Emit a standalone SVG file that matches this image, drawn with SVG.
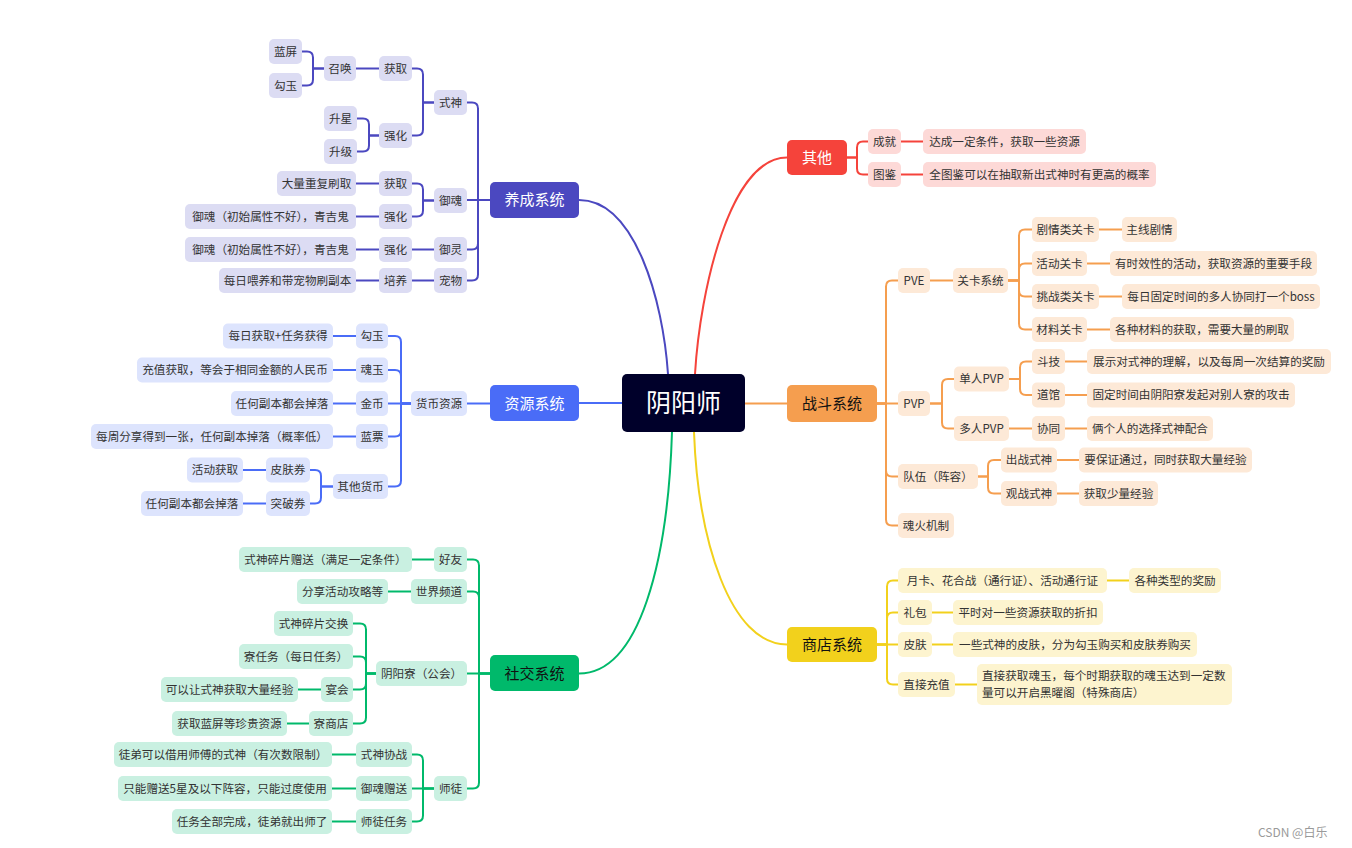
<svg xmlns="http://www.w3.org/2000/svg" width="1352" height="848" viewBox="0 0 1352 848">
<style>
text{font-family:"Noto Sans CJK SC","Noto Sans",sans-serif;font-size:11.6px;fill:#333;text-anchor:middle}
.main text{font-size:15px}
.w{fill:#fff}
.k{fill:#111}
.c path{fill:none;stroke-width:2}
.cy path{stroke:#4b48c0}.cz path{stroke:#4a6cf7}.cs path{stroke:#00b96b}
.cq path{stroke:#f5433b}.cd path{stroke:#f59e4f}.cp path{stroke:#f2d11c}
.ny rect{fill:#dcdcf3}.nz rect{fill:#dde4fd}.ns rect{fill:#c9f0e1}
.nq rect{fill:#fdd9d7}.nd rect{fill:#fde9d7}.np rect{fill:#fdf4cf}
</style>
<rect width="1352" height="848" fill="#fff"/>
<g id="connectors" class="c">
<g class="cy">
<path d="M668,374 C663,300 635,200 579,200"/>
<path d="M490,200 H478 V108.5 Q478,102.5 472,102.5 H467"/>
<path d="M490,200 H467"/>
<path d="M490,200 H478 V243.5 Q478,249.5 472,249.5 H467"/>
<path d="M490,200 H478 V274.5 Q478,280.5 472,280.5 H467"/>
<path d="M434,102.5 H423 V74.5 Q423,68.5 417,68.5 H412"/>
<path d="M434,102.5 H423 V129.5 Q423,135.5 417,135.5 H412"/>
<path d="M379,68.5 H356"/>
<path d="M324,68.5 H313 V57.5 Q313,51.5 307,51.5 H302"/>
<path d="M324,68.5 H313 V79.5 Q313,85.5 307,85.5 H302"/>
<path d="M379,135.5 H369 V124.5 Q369,118.5 363,118.5 H357"/>
<path d="M379,135.5 H369 V145.5 Q369,151.5 363,151.5 H357"/>
<path d="M434,200.5 H423 V189.5 Q423,183.5 417,183.5 H412"/>
<path d="M434,200.5 H423 V210.5 Q423,216.5 417,216.5 H412"/>
<path d="M379,183.5 H356"/>
<path d="M379,216.5 H356"/>
<path d="M434,249.5 H412"/>
<path d="M379,249.5 H356"/>
<path d="M434,280.5 H412"/>
<path d="M379,280.5 H356"/>
</g>
<g class="cz">
<path d="M579,403 H622"/>
<path d="M490,403.5 H467"/>
<path d="M411,403.5 H401 V342 Q401,336 395,336 H388"/>
<path d="M411,403.5 H401 V376 Q401,370 395,370 H388"/>
<path d="M411,403.5 H388"/>
<path d="M411,403.5 H401 V430.5 Q401,436.5 395,436.5 H388"/>
<path d="M411,403.5 H401 V480.5 Q401,486.5 395,486.5 H388"/>
<path d="M356,336 H333"/>
<path d="M356,370 H333"/>
<path d="M356,403.5 H333"/>
<path d="M356,436.5 H333"/>
<path d="M333,486.5 H321 V476 Q321,470 315,470 H310"/>
<path d="M333,486.5 H321 V497.5 Q321,503.5 315,503.5 H310"/>
<path d="M266,470 H243"/>
<path d="M266,503.5 H243"/>
</g>
<g class="cs">
<path d="M672,432 C668,560 640,673.5 579,673.5"/>
<path d="M490,673.5 H479 V565.5 Q479,559.5 473,559.5 H467"/>
<path d="M490,673.5 H479 V597.5 Q479,591.5 473,591.5 H467"/>
<path d="M490,673.5 H467"/>
<path d="M490,673.5 H479 V782.5 Q479,788.5 473,788.5 H467"/>
<path d="M434,559.5 H412"/>
<path d="M411,591.5 H388"/>
<path d="M376,673.5 H366 V629.5 Q366,623.5 360,623.5 H353"/>
<path d="M376,673.5 H366 V662.5 Q366,656.5 360,656.5 H353"/>
<path d="M376,673.5 H366 V683.5 Q366,689.5 360,689.5 H353"/>
<path d="M376,673.5 H366 V717.5 Q366,723.5 360,723.5 H353"/>
<path d="M321,689.5 H298"/>
<path d="M309,723.5 H287"/>
<path d="M434,788.5 H423 V760.5 Q423,754.5 417,754.5 H412"/>
<path d="M434,788.5 H412"/>
<path d="M434,788.5 H423 V815.5 Q423,821.5 417,821.5 H412"/>
<path d="M356,754.5 H332"/>
<path d="M356,788.5 H332"/>
<path d="M356,821.5 H332"/>
</g>
<g class="cq">
<path d="M695,374 C700,290 730,157.5 787,157.5"/>
<path d="M847,157.5 H857 V147.5 Q857,141.5 863,141.5 H868"/>
<path d="M847,157.5 H857 V168.5 Q857,174.5 863,174.5 H868"/>
<path d="M901,141.5 H923"/>
<path d="M901,174.5 H923"/>
</g>
<g class="cd">
<path d="M744,403.5 H787"/>
<path d="M877,403.5 H886 V286.5 Q886,280.5 892,280.5 H898"/>
<path d="M877,403.5 H898"/>
<path d="M877,403.5 H886 V470.5 Q886,476.5 892,476.5 H898"/>
<path d="M877,403.5 H886 V519.5 Q886,525.5 892,525.5 H898"/>
<path d="M930,280.5 H953"/>
<path d="M1008,280.5 H1019 V235.5 Q1019,229.5 1025,229.5 H1032"/>
<path d="M1008,280.5 H1019 V269.5 Q1019,263.5 1025,263.5 H1032"/>
<path d="M1008,280.5 H1019 V290.5 Q1019,296.5 1025,296.5 H1032"/>
<path d="M1008,280.5 H1019 V323.5 Q1019,329.5 1025,329.5 H1032"/>
<path d="M1099,229.5 H1122"/>
<path d="M1087,263.5 H1110"/>
<path d="M1099,296.5 H1122"/>
<path d="M1087,329.5 H1110"/>
<path d="M930,403.5 H942 V385 Q942,379 948,379 H954"/>
<path d="M930,403.5 H942 V422.5 Q942,428.5 948,428.5 H954"/>
<path d="M1009,379 H1020 V367.5 Q1020,361.5 1026,361.5 H1032"/>
<path d="M1009,379 H1020 V389 Q1020,395 1026,395 H1032"/>
<path d="M1065,361.5 H1087"/>
<path d="M1065,395 H1087"/>
<path d="M1009,428.5 H1032"/>
<path d="M1065,428.5 H1087"/>
<path d="M978,476.5 H988 V466 Q988,460 994,460 H1001"/>
<path d="M978,476.5 H988 V487.5 Q988,493.5 994,493.5 H1001"/>
<path d="M1057,460 H1079"/>
<path d="M1057,493.5 H1079"/>
</g>
<g class="cp">
<path d="M694,432 C698,540 730,644.5 787,644.5"/>
<path d="M877,644.5 H887 V586.5 Q887,580.5 893,580.5 H898"/>
<path d="M877,644.5 H887 V618.5 Q887,612.5 893,612.5 H898"/>
<path d="M877,644.5 H898"/>
<path d="M877,644.5 H887 V678.5 Q887,684.5 893,684.5 H898"/>
<path d="M1107,580.5 H1129"/>
<path d="M932,612.5 H953"/>
<path d="M932,644.5 H953"/>
<path d="M955,684.5 H977"/>
</g>
</g>

<g id="root"><rect x="622" y="374" width="123" height="58" rx="5" fill="#00002a"/><text x="683.5" y="412" class="w" style="font-size:25px">阴阳师</text></g>

<g class="main">
<g id="yangcheng"><rect x="490" y="182" width="89" height="36" rx="5" fill="#4b48c0"/><text x="534.5" y="205" class="w">养成系统</text></g>
<g id="ziyuan"><rect x="490" y="385" width="89" height="36" rx="5" fill="#4a6cf7"/><text x="534.5" y="408.5" class="w">资源系统</text></g>
<g id="shejiao"><rect x="490" y="655" width="89" height="36" rx="5" fill="#00b96b"/><text x="534.5" y="678.5" class="k">社交系统</text></g>
<g id="qita"><rect x="787" y="140" width="60" height="35" rx="5" fill="#f5433b"/><text x="817" y="163" class="w">其他</text></g>
<g id="zhandou"><rect x="787" y="385" width="90" height="37" rx="5" fill="#f59e4f"/><text x="832" y="409" class="k">战斗系统</text></g>
<g id="shangdian"><rect x="787" y="627" width="90" height="35" rx="5" fill="#f2d11c"/><text x="832" y="650" class="k">商店系统</text></g>
</g>

<g class="ny">
<g id="ys1"><rect x="434" y="90" width="33" height="25" rx="5"/><text x="450.5" y="106.5">式神</text></g>
<g id="ys2"><rect x="379" y="56" width="33" height="25" rx="5"/><text x="395.5" y="72.5">获取</text></g>
<g id="ys3"><rect x="324" y="56" width="32" height="25" rx="5"/><text x="340" y="72.5">召唤</text></g>
<g id="ys4"><rect x="269" y="39" width="33" height="25" rx="5"/><text x="285.5" y="55.5">蓝屏</text></g>
<g id="ys5"><rect x="269" y="73" width="33" height="25" rx="5"/><text x="285.5" y="89.5">勾玉</text></g>
<g id="ys6"><rect x="379" y="123" width="33" height="25" rx="5"/><text x="395.5" y="139.5">强化</text></g>
<g id="ys7"><rect x="324" y="106" width="33" height="25" rx="5"/><text x="340.5" y="122.5">升星</text></g>
<g id="ys8"><rect x="324" y="139" width="33" height="25" rx="5"/><text x="340.5" y="155.5">升级</text></g>
<g id="ys9"><rect x="434" y="188" width="33" height="25" rx="5"/><text x="450.5" y="204.5">御魂</text></g>
<g id="ys10"><rect x="379" y="171" width="33" height="25" rx="5"/><text x="395.5" y="187.5">获取</text></g>
<g id="ys11"><rect x="277" y="171" width="79" height="25" rx="5"/><text x="316.5" y="187.5">大量重复刷取</text></g>
<g id="ys12"><rect x="379" y="204" width="33" height="25" rx="5"/><text x="395.5" y="220.5">强化</text></g>
<g id="ys13"><rect x="185" y="204" width="171" height="25" rx="5"/><text x="270.5" y="220.5">御魂（初始属性不好），青吉鬼</text></g>
<g id="ys14"><rect x="434" y="237" width="33" height="25" rx="5"/><text x="450.5" y="253.5">御灵</text></g>
<g id="ys15"><rect x="379" y="237" width="33" height="25" rx="5"/><text x="395.5" y="253.5">强化</text></g>
<g id="ys16"><rect x="185" y="237" width="171" height="25" rx="5"/><text x="270.5" y="253.5">御魂（初始属性不好），青吉鬼</text></g>
<g id="ys17"><rect x="434" y="268" width="33" height="25" rx="5"/><text x="450.5" y="284.5">宠物</text></g>
<g id="ys18"><rect x="379" y="268" width="33" height="25" rx="5"/><text x="395.5" y="284.5">培养</text></g>
<g id="ys19"><rect x="219" y="268" width="137" height="25" rx="5"/><text x="287.5" y="284.5">每日喂养和带宠物刷副本</text></g>
</g>

<g class="nz">
<g id="zy1"><rect x="411" y="391" width="56" height="25" rx="5"/><text x="439" y="407.5">货币资源</text></g>
<g id="zy2"><rect x="356" y="323.5" width="32" height="25" rx="5"/><text x="372" y="340">勾玉</text></g>
<g id="zy3"><rect x="356" y="357.5" width="32" height="25" rx="5"/><text x="372" y="374">魂玉</text></g>
<g id="zy4"><rect x="356" y="391" width="32" height="25" rx="5"/><text x="372" y="407.5">金币</text></g>
<g id="zy5"><rect x="356" y="424" width="32" height="25" rx="5"/><text x="372" y="440.5">蓝票</text></g>
<g id="zy6"><rect x="333" y="474" width="55" height="25" rx="5"/><text x="360.5" y="490.5">其他货币</text></g>
<g id="zy7"><rect x="223" y="323.5" width="110" height="25" rx="5"/><text x="278" y="340">每日获取+任务获得</text></g>
<g id="zy8"><rect x="137" y="357.5" width="196" height="25" rx="5"/><text x="235" y="374">充值获取，等会于相同金额的人民币</text></g>
<g id="zy9"><rect x="231" y="391" width="102" height="25" rx="5"/><text x="282" y="407.5">任何副本都会掉落</text></g>
<g id="zy10"><rect x="91" y="424" width="242" height="25" rx="5"/><text x="212" y="440.5">每周分享得到一张，任何副本掉落（概率低）</text></g>
<g id="zy11"><rect x="266" y="457.5" width="44" height="25" rx="5"/><text x="288" y="474">皮肤券</text></g>
<g id="zy12"><rect x="266" y="491" width="44" height="25" rx="5"/><text x="288" y="507.5">突破券</text></g>
<g id="zy13"><rect x="187" y="457.5" width="56" height="25" rx="5"/><text x="215" y="474">活动获取</text></g>
<g id="zy14"><rect x="141" y="491" width="102" height="25" rx="5"/><text x="192" y="507.5">任何副本都会掉落</text></g>
</g>

<g class="ns">
<g id="sj1"><rect x="434" y="547" width="33" height="25" rx="5"/><text x="450.5" y="563.5">好友</text></g>
<g id="sj2"><rect x="411" y="579" width="56" height="25" rx="5"/><text x="439" y="595.5">世界频道</text></g>
<g id="sj3"><rect x="376" y="661" width="91" height="25" rx="5"/><text x="421.5" y="677.5">阴阳寮（公会）</text></g>
<g id="sj4"><rect x="434" y="776" width="33" height="25" rx="5"/><text x="450.5" y="792.5">师徒</text></g>
<g id="sj5"><rect x="239" y="547" width="173" height="25" rx="5"/><text x="325.5" y="563.5">式神碎片赠送（满足一定条件）</text></g>
<g id="sj6"><rect x="297" y="579" width="91" height="25" rx="5"/><text x="342.5" y="595.5">分享活动攻略等</text></g>
<g id="sj7"><rect x="274" y="611" width="79" height="25" rx="5"/><text x="313.5" y="627.5">式神碎片交换</text></g>
<g id="sj8"><rect x="239" y="644" width="114" height="25" rx="5"/><text x="296" y="660.5">寮任务（每日任务）</text></g>
<g id="sj9"><rect x="321" y="677" width="32" height="25" rx="5"/><text x="337" y="693.5">宴会</text></g>
<g id="sj10"><rect x="309" y="711" width="44" height="25" rx="5"/><text x="331" y="727.5">寮商店</text></g>
<g id="sj11"><rect x="161" y="677" width="137" height="25" rx="5"/><text x="229.5" y="693.5">可以让式神获取大量经验</text></g>
<g id="sj12"><rect x="172" y="711" width="115" height="25" rx="5"/><text x="229.5" y="727.5">获取蓝屏等珍贵资源</text></g>
<g id="sj13"><rect x="356" y="742" width="56" height="25" rx="5"/><text x="384" y="758.5">式神协战</text></g>
<g id="sj14"><rect x="356" y="776" width="56" height="25" rx="5"/><text x="384" y="792.5">御魂赠送</text></g>
<g id="sj15"><rect x="356" y="809" width="56" height="25" rx="5"/><text x="384" y="825.5">师徒任务</text></g>
<g id="sj16"><rect x="114" y="742" width="218" height="25" rx="5"/><text x="223" y="758.5">徒弟可以借用师傅的式神（有次数限制）</text></g>
<g id="sj17"><rect x="118" y="776" width="214" height="25" rx="5"/><text x="225" y="792.5">只能赠送5星及以下阵容，只能过度使用</text></g>
<g id="sj18"><rect x="172" y="809" width="160" height="25" rx="5"/><text x="252" y="825.5">任务全部完成，徒弟就出师了</text></g>
</g>

<g class="nq">
<g id="qt1"><rect x="868" y="129" width="33" height="25" rx="5"/><text x="884.5" y="145.5">成就</text></g>
<g id="qt2"><rect x="868" y="162" width="33" height="25" rx="5"/><text x="884.5" y="178.5">图鉴</text></g>
<g id="qt3"><rect x="923" y="129" width="163" height="25" rx="5"/><text x="1004.5" y="145.5">达成一定条件，获取一些资源</text></g>
<g id="qt4"><rect x="923" y="162" width="233" height="25" rx="5"/><text x="1039.5" y="178.5">全图鉴可以在抽取新出式神时有更高的概率</text></g>
</g>

<g class="nd">
<g id="zd1"><rect x="898" y="268" width="32" height="25" rx="5"/><text x="914" y="284.5">PVE</text></g>
<g id="zd2"><rect x="898" y="391" width="32" height="25" rx="5"/><text x="914" y="407.5">PVP</text></g>
<g id="zd3"><rect x="898" y="464" width="80" height="25" rx="5"/><text x="938" y="480.5">队伍（阵容）</text></g>
<g id="zd4"><rect x="898" y="513" width="56" height="25" rx="5"/><text x="926" y="529.5">魂火机制</text></g>
<g id="zd5"><rect x="953" y="268" width="55" height="25" rx="5"/><text x="980.5" y="284.5">关卡系统</text></g>
<g id="zd6"><rect x="1032" y="217" width="67" height="25" rx="5"/><text x="1065.5" y="233.5">剧情类关卡</text></g>
<g id="zd7"><rect x="1032" y="251" width="55" height="25" rx="5"/><text x="1059.5" y="267.5">活动关卡</text></g>
<g id="zd8"><rect x="1032" y="284" width="67" height="25" rx="5"/><text x="1065.5" y="300.5">挑战类关卡</text></g>
<g id="zd9"><rect x="1032" y="317" width="55" height="25" rx="5"/><text x="1059.5" y="333.5">材料关卡</text></g>
<g id="zd10"><rect x="1122" y="217" width="55" height="25" rx="5"/><text x="1149.5" y="233.5">主线剧情</text></g>
<g id="zd11"><rect x="1110" y="251" width="207" height="25" rx="5"/><text x="1213.5" y="267.5">有时效性的活动，获取资源的重要手段</text></g>
<g id="zd12"><rect x="1122" y="284" width="198" height="25" rx="5"/><text x="1221" y="300.5">每日固定时间的多人协同打一个boss</text></g>
<g id="zd13"><rect x="1110" y="317" width="184" height="25" rx="5"/><text x="1202" y="333.5">各种材料的获取，需要大量的刷取</text></g>
<g id="zd14"><rect x="954" y="366.5" width="55" height="25" rx="5"/><text x="981.5" y="383">单人PVP</text></g>
<g id="zd15"><rect x="954" y="416" width="55" height="25" rx="5"/><text x="981.5" y="432.5">多人PVP</text></g>
<g id="zd16"><rect x="1032" y="349" width="33" height="25" rx="5"/><text x="1048.5" y="365.5">斗技</text></g>
<g id="zd17"><rect x="1032" y="382.5" width="33" height="25" rx="5"/><text x="1048.5" y="399">道馆</text></g>
<g id="zd18"><rect x="1032" y="416" width="33" height="25" rx="5"/><text x="1048.5" y="432.5">协同</text></g>
<g id="zd19"><rect x="1087" y="349" width="244" height="25" rx="5"/><text x="1209" y="365.5">展示对式神的理解，以及每周一次结算的奖励</text></g>
<g id="zd20"><rect x="1087" y="382.5" width="208" height="25" rx="5"/><text x="1191" y="399">固定时间由阴阳寮发起对别人寮的攻击</text></g>
<g id="zd21"><rect x="1087" y="416" width="126" height="25" rx="5"/><text x="1150" y="432.5">俩个人的选择式神配合</text></g>
<g id="zd22"><rect x="1001" y="447.5" width="56" height="25" rx="5"/><text x="1029" y="464">出战式神</text></g>
<g id="zd23"><rect x="1001" y="481" width="56" height="25" rx="5"/><text x="1029" y="497.5">观战式神</text></g>
<g id="zd24"><rect x="1079" y="447.5" width="173" height="25" rx="5"/><text x="1165.5" y="464">要保证通过，同时获取大量经验</text></g>
<g id="zd25"><rect x="1079" y="481" width="79" height="25" rx="5"/><text x="1118.5" y="497.5">获取少量经验</text></g>
</g>

<g class="np">
<g id="sd1"><rect x="898" y="568" width="209" height="25" rx="5"/><text x="1002.5" y="584.5">月卡、花合战（通行证）、活动通行证</text></g>
<g id="sd2"><rect x="898" y="600" width="34" height="25" rx="5"/><text x="915" y="616.5">礼包</text></g>
<g id="sd3"><rect x="898" y="632" width="34" height="25" rx="5"/><text x="915" y="648.5">皮肤</text></g>
<g id="sd4"><rect x="898" y="672" width="57" height="25" rx="5"/><text x="926.5" y="688.5">直接充值</text></g>
<g id="sd5"><rect x="1129" y="568" width="92" height="25" rx="5"/><text x="1175" y="584.5">各种类型的奖励</text></g>
<g id="sd6"><rect x="953" y="600" width="150" height="25" rx="5"/><text x="1028" y="616.5">平时对一些资源获取的折扣</text></g>
<g id="sd7"><rect x="953" y="632" width="244" height="25" rx="5"/><text x="1075" y="648.5">一些式神的皮肤，分为勾玉购买和皮肤券购买</text></g>
<g id="sd8"><rect x="977" y="664" width="255" height="41" rx="5"/><text x="982" y="680" style="text-anchor:start">直接获取魂玉，每个时期获取的魂玉达到一定数</text><text x="982" y="697" style="text-anchor:start">量可以开启黑曜阁（特殊商店）</text></g>
</g>

<text x="1258" y="837" style="text-anchor:start;font-size:12px;fill:#9a9a9a">CSDN @白乐</text>
</svg>
